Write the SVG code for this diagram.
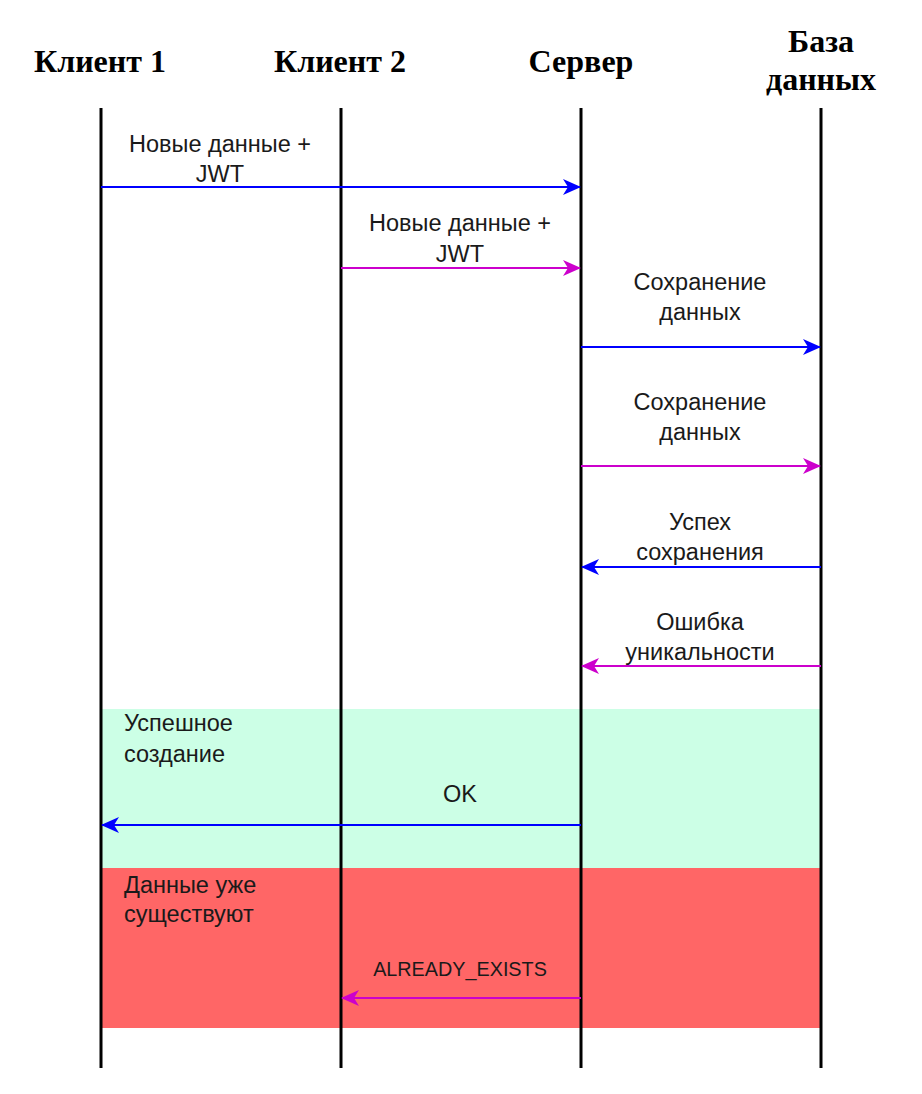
<svg xmlns="http://www.w3.org/2000/svg" width="922" height="1094" viewBox="0 0 922 1094">
<defs>
<marker id="ab" viewBox="0 0 18 16" refX="17" refY="8" markerWidth="18" markerHeight="16" markerUnits="userSpaceOnUse" orient="auto"><path d="M0,0 L18,8 L0,16 L5,8 Z" fill="#0000FF"/></marker>
<marker id="ap" viewBox="0 0 18 16" refX="17" refY="8" markerWidth="18" markerHeight="16" markerUnits="userSpaceOnUse" orient="auto"><path d="M0,0 L18,8 L0,16 L5,8 Z" fill="#CC00CC"/></marker>
</defs>
<style>
.hdr{font-family:"Liberation Serif","Times New Roman",serif;font-weight:bold;font-size:32px;text-anchor:middle;fill:#000}
.lbl{font-family:"Liberation Sans",Arial,sans-serif;font-size:23.5px;text-anchor:middle;fill:#1a1a1a}
.reg{font-family:"Liberation Sans",Arial,sans-serif;font-size:23.5px;fill:#1a1a1a}
.life{stroke:#000;stroke-width:3}
.b{stroke:#0000FF;stroke-width:2;fill:none;marker-end:url(#ab)}
.p{stroke:#CC00CC;stroke-width:2;fill:none;marker-end:url(#ap)}
</style>
<rect width="922" height="1094" fill="#fff"/>
<g id="regions">
<rect id="region-success" x="101" y="709" width="720" height="159" fill="#CCFFE6"/>
<rect id="region-exists" x="101" y="868" width="720" height="160" fill="#FF6666"/>
<text class="reg" x="124" y="731">Успешное</text>
<text class="reg" x="124" y="762">создание</text>
<text class="reg" x="124" y="893">Данные уже</text>
<text class="reg" x="124" y="922">существуют</text>
</g>
<g id="client1"><text class="hdr" x="100" y="72">Клиент 1</text><line class="life" x1="101" y1="108" x2="101" y2="1068"/></g>
<g id="client2"><text class="hdr" x="340" y="72">Клиент 2</text><line class="life" x1="341" y1="108" x2="341" y2="1068"/></g>
<g id="server"><text class="hdr" x="581" y="72">Сервер</text><line class="life" x1="581" y1="108" x2="581" y2="1068"/></g>
<g id="db"><text class="hdr" x="821" y="52">База</text><text class="hdr" x="821" y="90">данных</text><line class="life" x1="821" y1="108" x2="821" y2="1068"/></g>
<g id="connectors">
<line class="b" x1="101" y1="187" x2="580" y2="187"/>
<text class="lbl" x="220" y="152">Новые данные +</text><text class="lbl" x="220" y="182">JWT</text>
<line class="p" x1="341" y1="268" x2="580" y2="268"/>
<text class="lbl" x="460" y="231">Новые данные +</text><text class="lbl" x="460" y="262">JWT</text>
<line class="b" x1="581" y1="347" x2="820" y2="347"/>
<text class="lbl" x="700" y="290">Сохранение</text><text class="lbl" x="700" y="320">данных</text>
<line class="p" x1="581" y1="466" x2="820" y2="466"/>
<text class="lbl" x="700" y="410">Сохранение</text><text class="lbl" x="700" y="440">данных</text>
<line class="b" x1="821" y1="567" x2="582" y2="567"/>
<text class="lbl" x="700" y="530">Успех</text><text class="lbl" x="700" y="560">сохранения</text>
<line class="p" x1="821" y1="666" x2="582" y2="666"/>
<text class="lbl" x="700" y="630">Ошибка</text><text class="lbl" x="700" y="660">уникальности</text>
<line class="b" x1="581" y1="825" x2="102" y2="825"/>
<text class="lbl" x="460" y="802">OK</text>
<line class="p" x1="581" y1="998" x2="342" y2="998"/>
<text class="lbl" x="460" y="976" style="font-size:19.8px">ALREADY_EXISTS</text>
</g>
</svg>
